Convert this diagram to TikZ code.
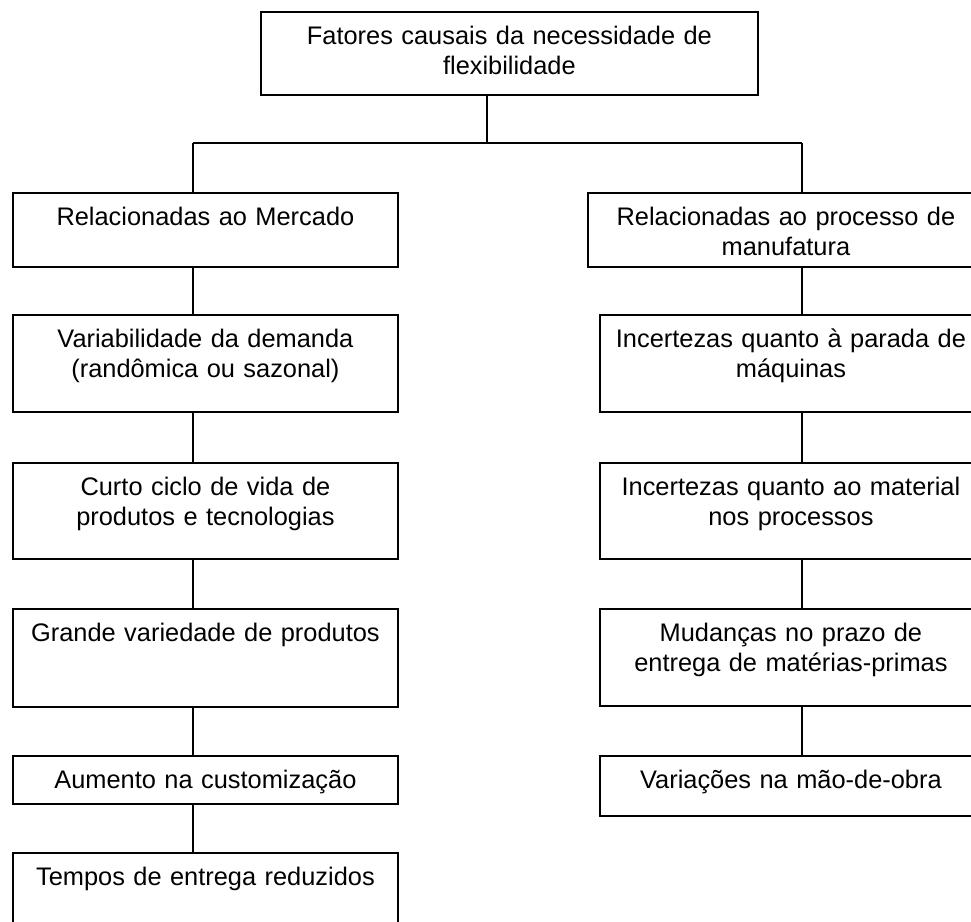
\documentclass[tikz,border=0pt]{standalone}
\usepackage{fontspec}
\setmainfont{Liberation Sans}
\usetikzlibrary{positioning}

\tikzset{
  factor/.style={draw, line width=1.1pt, anchor=north west, inner sep=0pt,
    text width=7.7cm, align=center, text height=0.66cm, text depth=#1},
  link/.style={line width=1.1pt}
}

\begin{document}
\begin{tikzpicture}[x=0.02cm,y=-0.02cm,font=\fontsize{14.45pt}{16.6pt}\selectfont]
  %% frame of the picture
  \useasboundingbox (0,0) rectangle (971,921);
  \clip (0,0) rectangle (971,921);

  \coordinate (colL) at (193,0); % left column line
  \coordinate (colR) at (802,0); % right column line
  \coordinate (split) at (487,143);

  \node[factor=1.0cm, text width=9.94cm] (top) at (260,11) {Fatores causais da necessidade de\\flexibilidade};

  % market side
  \node[factor=0.82cm] (mkt) at (12,192) {Relacionadas ao Mercado};
  \node[factor=1.28cm] (var) at (12,314) {Variabilidade da demanda\\(randômica ou sazonal)};
  \node[factor=1.26cm] (curto) at (12,462) {Curto ciclo de vida de\\produtos e tecnologias};
  \node[factor=1.30cm] (grande) at (12,608) {Grande variedade de produtos};
  \node[factor=0.30cm] (aum) at (12,755) {Aumento na customização};
  \node[factor=1.34cm] (tempos) at (12,852) {Tempos de entrega reduzidos};

  % manufacturing side
  \node[factor=0.82cm, text width=7.92cm] (proc) at (587,192) {Relacionadas ao processo de\\manufatura};
  \node[factor=1.28cm, text width=7.64cm] (parada) at (599,314) {Incertezas quanto à parada de\\máquinas};
  \node[factor=1.26cm, text width=7.64cm] (material) at (599,462) {Incertezas quanto ao material\\nos processos};
  \node[factor=1.28cm, text width=7.64cm] (mudancas) at (599,608) {Mudanças no prazo de\\entrega de matérias-primas};
  \node[factor=0.54cm, text width=7.64cm] (maoobra) at (599,755) {Variações na mão-de-obra};

  % tree lines
  \draw[link] (top.south -| split) -- (split);
  \draw[link] (colL |- split) -- (colR |- split);
  \draw[link] (colL |- split) -- (mkt.north -| colL);
  \draw[link] (colR |- split) -- (proc.north -| colR);
  \foreach \a/\b in {mkt/var, var/curto, curto/grande, grande/aum, aum/tempos}
    \draw[link] (\a.south -| colL) -- (\b.north -| colL);
  \foreach \a/\b in {proc/parada, parada/material, material/mudancas, mudancas/maoobra}
    \draw[link] (\a.south -| colR) -- (\b.north -| colR);
\end{tikzpicture}
\end{document}
